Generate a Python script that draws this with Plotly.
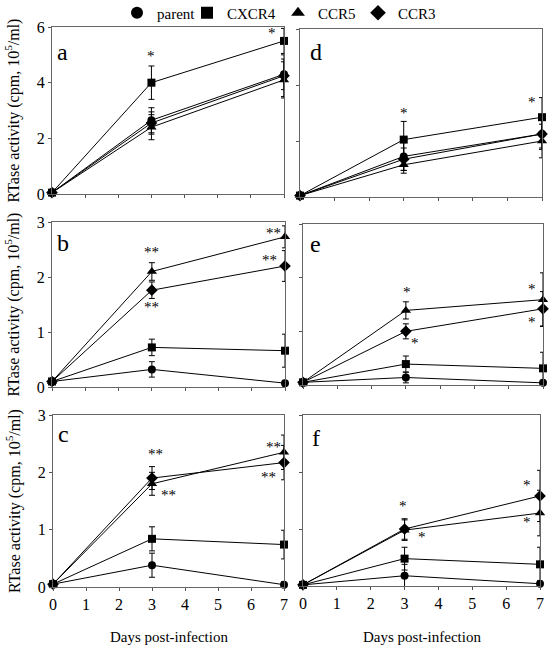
import plotly.graph_objects as go

# ---------------- data ----------------
days = [0, 3, 7]
series_names = ["parent", "CXCR4", "CCR5", "CCR3"]
x_tick_labels = ["0", "1", "2", "3", "4", "5", "6", "7"]
y_ticks_top = [0, 2, 4, 6]
y_ticks_low = [0, 1, 2, 3]

a_parent = [0.05, 2.65, 4.3]
a_cxcr4 = [0.05, 4.0, 5.5]
a_ccr5 = [0.05, 2.4, 4.1]
a_ccr3 = [0.05, 2.55, 4.25]
a_err_parent = [0, 0.45, 0.55]
a_err_cxcr4 = [0, 0.6, 0.45]
a_err_ccr5 = [0, 0.45, 0.65]
a_err_ccr3 = [0, 0.4, 0.75]

d_parent = [0.05, 1.45, 2.25]
d_cxcr4 = [0.05, 2.05, 2.85]
d_ccr5 = [0.05, 1.15, 2.0]
d_ccr3 = [0.05, 1.35, 2.25]
d_err_parent = [0, 0.5, 0.5]
d_err_cxcr4 = [0, 0.65, 0.7]
d_err_ccr5 = [0, 0.3, 0.6]
d_err_ccr3 = [0, 0.4, 0.55]

b_parent = [0.1, 0.32, 0.07]
b_cxcr4 = [0.1, 0.72, 0.66]
b_ccr5 = [0.1, 2.1, 2.73]
b_ccr3 = [0.1, 1.76, 2.2]
b_err_parent = [0, 0.14, 0.05]
b_err_cxcr4 = [0, 0.15, 0.3]
b_err_ccr5 = [0, 0.16, 0.2]
b_err_ccr3 = [0, 0.15, 0.28]

e_parent = [0.05, 0.14, 0.04]
e_cxcr4 = [0.05, 0.39, 0.31]
e_ccr5 = [0.05, 1.39, 1.59]
e_ccr3 = [0.05, 1.0, 1.42]
e_err_parent = [0, 0.1, 0.04]
e_err_cxcr4 = [0, 0.15, 0.3]
e_err_ccr5 = [0, 0.16, 0.5]
e_err_ccr3 = [0, 0.14, 0.32]

c_parent = [0.05, 0.38, 0.04]
c_cxcr4 = [0.05, 0.84, 0.74]
c_ccr5 = [0.05, 1.8, 2.35]
c_ccr3 = [0.05, 1.9, 2.17]
c_err_parent = [0, 0.21, 0.05]
c_err_cxcr4 = [0, 0.21, 0.25]
c_err_ccr5 = [0, 0.2, 0.3]
c_err_ccr3 = [0, 0.2, 0.3]

f_parent = [0.02, 0.18, 0.04]
f_cxcr4 = [0.02, 0.48, 0.38]
f_ccr5 = [0.02, 0.98, 1.28]
f_ccr3 = [0.02, 1.0, 1.58]
f_err_parent = [0, 0.2, 0.05]
f_err_cxcr4 = [0, 0.2, 0.3]
f_err_ccr5 = [0, 0.18, 0.4]
f_err_ccr3 = [0, 0.18, 0.45]

# significance marks: (x, y, text)
stars_a = [(3.0, 4.95, "*"), (6.65, 5.8, "*")]
stars_d = [(3.0, 3.0, "*"), (6.7, 3.4, "*")]
stars_b = [(3.0, 2.45, "**"), (3.0, 1.45, "**"), (6.64, 2.8, "**"), (6.52, 2.31, "**")]
stars_e = [(3.03, 1.73, "*"), (3.27, 0.78, "*"), (6.68, 1.79, "*"), (6.68, 1.17, "*")]
stars_c = [(3.1, 2.32, "**"), (3.49, 1.6, "**"), (6.67, 2.44, "**"), (6.52, 1.92, "**")]
stars_f = [(2.95, 1.4, "*"), (3.51, 0.86, "*"), (6.62, 1.77, "*"), (6.62, 1.12, "*")]

# ---------------- layout helpers ----------------
W, H = 557, 649
FONT = "Liberation Serif, Times New Roman, serif"
symbols = ["circle", "square", "triangle-up", "diamond"]
msizes = [8, 8, 9, 9]
legend_symbol_px = [137, 207, 298, 378]

panels = [
    ("a", 1, [a_parent, a_cxcr4, a_ccr5, a_ccr3], [a_err_parent, a_err_cxcr4, a_err_ccr5, a_err_ccr3], stars_a,
     [0, 6], y_ticks_top, (52, 284), (27, 194), True, False, (10, 25)),
    ("d", 2, [d_parent, d_cxcr4, d_ccr5, d_ccr3], [d_err_parent, d_err_cxcr4, d_err_ccr5, d_err_ccr3], stars_d,
     [0, 6], y_ticks_top, (300, 542), (29, 197), False, False, (16, 23)),
    ("b", 3, [b_parent, b_cxcr4, b_ccr5, b_ccr3], [b_err_parent, b_err_cxcr4, b_err_ccr5, b_err_ccr3], stars_b,
     [0, 3], y_ticks_low, (52, 285), (222, 387), True, False, (11, 21)),
    ("e", 4, [e_parent, e_cxcr4, e_ccr5, e_ccr3], [e_err_parent, e_err_cxcr4, e_err_ccr5, e_err_ccr3], stars_e,
     [0, 3], y_ticks_low, (303, 543), (224, 385), False, False, (12, 20)),
    ("c", 5, [c_parent, c_cxcr4, c_ccr5, c_ccr3], [c_err_parent, c_err_cxcr4, c_err_ccr5, c_err_ccr3], stars_c,
     [0, 3], y_ticks_low, (53, 284), (415, 587), True, True, (10, 19)),
    ("f", 6, [f_parent, f_cxcr4, f_ccr5, f_ccr3], [f_err_parent, f_err_cxcr4, f_err_ccr5, f_err_ccr3], stars_f,
     [0, 3], y_ticks_low, (303, 540), (415, 586), False, True, (13, 23)),
]

fig = go.Figure()
annotations = []
layout_axes = {}

for letter, idx, vals, errs, stars, yrange, yticks, xpx, ypx, show_y, show_x, lpos in panels:
    xa = "x" if idx == 1 else f"x{idx}"
    ya = "y" if idx == 1 else f"y{idx}"
    xkey = "xaxis" if idx == 1 else f"xaxis{idx}"
    ykey = "yaxis" if idx == 1 else f"yaxis{idx}"
    pw = xpx[1] - xpx[0]
    ph = ypx[1] - ypx[0]
    for s, (v, e) in enumerate(zip(vals, errs)):
        fig.add_trace(go.Scatter(
            x=days, y=v, xaxis=xa, yaxis=ya, mode="lines+markers",
            line=dict(color="black", width=1),
            marker=dict(symbol=symbols[s], size=msizes[s], color="black"),
            error_y=dict(type="data", array=e, visible=True, color="black", thickness=1, width=3),
            cliponaxis=False, showlegend=False, name=series_names[s],
        ))
    layout_axes[xkey] = dict(
        domain=[xpx[0] / W, xpx[1] / W], anchor=ya, range=[0, 7],
        tickmode="array", tickvals=list(range(8)), ticktext=x_tick_labels,
        showticklabels=show_x, ticks="outside", ticklen=3, tickcolor="#555",
        showline=True, linecolor="#666", linewidth=1, mirror=True,
        showgrid=False, zeroline=False,
        tickfont=dict(family=FONT, size=16, color="black"),
    )
    layout_axes[ykey] = dict(
        domain=[1 - ypx[1] / H, 1 - ypx[0] / H], anchor=xa, range=yrange,
        tickmode="array", tickvals=yticks, ticktext=[str(t) for t in yticks],
        showticklabels=show_y, ticks="outside", ticklen=3, tickcolor="#555",
        showline=True, linecolor="#666", linewidth=1, mirror=True,
        showgrid=False, zeroline=False,
        tickfont=dict(family=FONT, size=16, color="black"),
    )
    annotations.append(dict(
        xref=f"{xa} domain", yref=f"{ya} domain", x=lpos[0] / pw, y=1 - lpos[1] / ph,
        xanchor="center", yanchor="middle", text=letter, showarrow=False,
        font=dict(family=FONT, size=24, color="black"),
    ))
    for sx, sy, st in stars:
        annotations.append(dict(
            xref=xa, yref=ya, x=sx, y=sy, text=st, showarrow=False,
            font=dict(family=FONT, size=15, color="black"),
        ))
    if show_y:
        annotations.append(dict(
            xref="paper", yref="paper", x=13 / W, y=1 - (ypx[0] + ypx[1]) / 2 / H,
            xanchor="center", yanchor="middle",
            text="RTase activity (cpm, 10<sup>5</sup>/ml)", textangle=-90, showarrow=False,
            font=dict(family=FONT, size=16, color="black"),
        ))
    if show_x:
        annotations.append(dict(
            xref="paper", yref="paper", x=(xpx[0] + xpx[1]) / 2 / W, y=1 - 637 / H,
            xanchor="center", yanchor="middle",
            text="Days post-infection", showarrow=False,
            font=dict(family=FONT, size=15, color="black"),
        ))

# legend entries (markers only), one legend per series for exact placement
legend_layout = {}
for s in range(4):
    lname = "legend" if s == 0 else f"legend{s + 1}"
    fig.add_trace(go.Scatter(
        x=[None], y=[None], mode="markers", name=series_names[s], legend=lname,
        marker=dict(symbol=symbols[s], size=12, color="black"), showlegend=True,
    ))
    legend_layout[lname] = dict(
        orientation="h", x=(legend_symbol_px[s] - 20) / W, xanchor="left",
        y=1 - 13 / H, yanchor="middle",
        font=dict(family=FONT, size=15, color="black"),
        bgcolor="rgba(0,0,0,0)", borderwidth=0,
    )

fig.update_layout(
    width=W, height=H, margin=dict(l=0, r=0, t=0, b=0, autoexpand=False),
    paper_bgcolor="white", plot_bgcolor="white",
    annotations=annotations,
    **legend_layout,
    **layout_axes,
)

fig.write_html("out.html", config={"displayModeBar": False},
               post_script="document.body.style.margin='0';")
